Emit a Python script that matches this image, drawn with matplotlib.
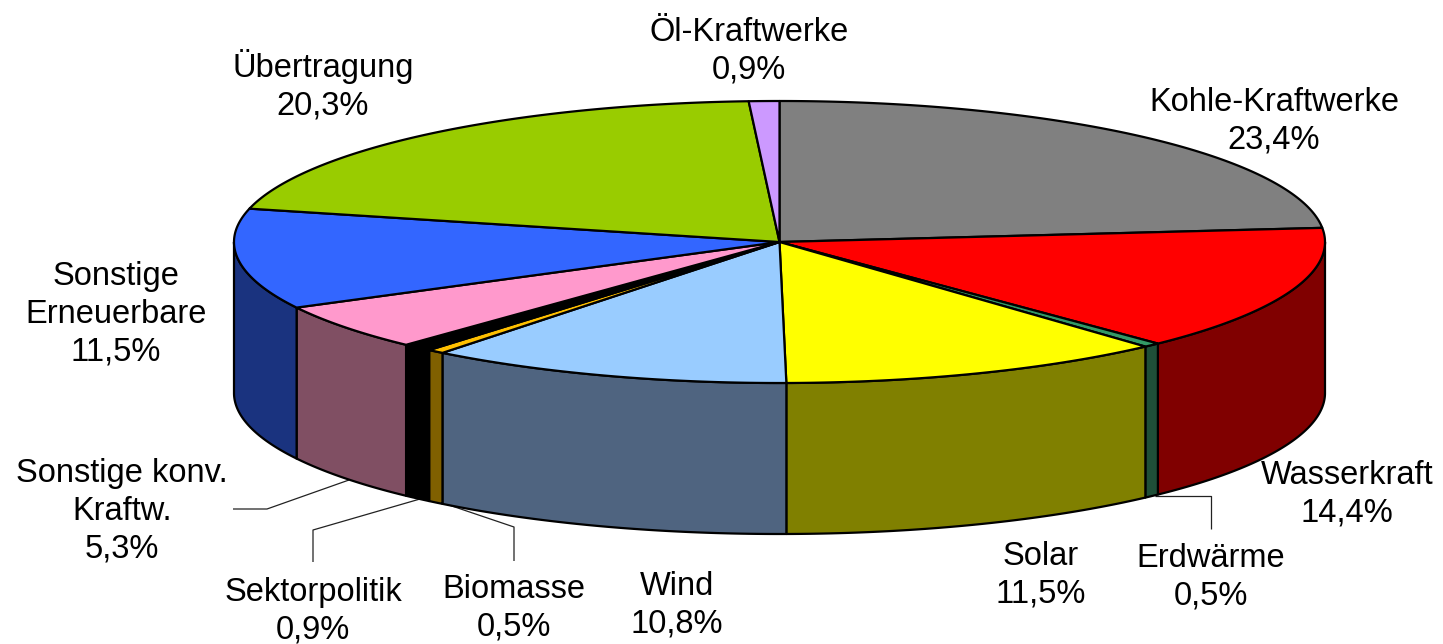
import numpy as np
import matplotlib
matplotlib.use("Agg")
import matplotlib.pyplot as plt
from matplotlib.patches import Polygon

categories = ["Kohle-Kraftwerke", "Wasserkraft", "Erdwärme", "Solar", "Wind", "Biomasse",
              "Sektorpolitik", "Sonstige konv.\nKraftw.", "Sonstige\nErneuerbare", "Übertragung", "Öl-Kraftwerke"]
values = [23.4, 14.4, 0.5, 11.5, 10.8, 0.5, 0.9, 5.3, 11.5, 20.3, 0.9]
top_colors = ["#808080", "#FF0000", "#339966", "#FFFF00", "#99CCFF", "#FFC000",
              "#000000", "#FF99CC", "#3366FF", "#99CC00", "#CC99FF"]
side_colors = ["#404040", "#800000", "#1F4F38", "#808000", "#4F6480", "#806000",
               "#000000", "#804F63", "#1A337F", "#4D6600", "#664D80"]
label_pos = [(1274, 121), (1347, 494), (1211, 577), (1041, 575), (677, 605), (514, 608),
             (313, 611), (122, 511), (116, 314), (323, 85), (749, 51)]
leaders = [[(233, 509), (267, 509), (349, 480)],
           [(313, 562), (313, 530), (420, 499)],
           [(514, 561), (514, 527), (443, 503)],
           [(1155, 496), (1211, 496), (1211, 529)]]

W, H = 1443, 644
CX, CY, RX, RY, DEPTH = 779.5, 242, 545.5, 141, 151

plt.rcParams["font.family"] = ["Liberation Sans", "DejaVu Sans"]
fig = plt.figure(figsize=(W / 100, H / 100), dpi=100)
ax = fig.add_axes([0, 0, 1, 1])
ax.set_xlim(0, W)
ax.set_ylim(H, 0)
ax.axis("off")


def arc(a, b, dy=0.0):
    t = np.radians(np.linspace(a, b, max(2, int(abs(b - a) * 4) + 2)))
    return np.column_stack([CX + RX * np.sin(t), CY + dy - RY * np.cos(t)])


edges = np.concatenate([[0], np.cumsum(values)]) * 360 / sum(values)
LW = 1.6

# walls of the front half
for a, b, c in zip(edges[:-1], edges[1:], side_colors):
    lo, hi = max(a, 90), min(b, 270)
    if hi > lo:
        pts = np.vstack([arc(lo, hi), arc(lo, hi, DEPTH)[::-1]])
        ax.add_patch(Polygon(pts, closed=True, facecolor=c, edgecolor="black",
                             linewidth=LW, joinstyle="round", zorder=2))

# top surface
for a, b, c in zip(edges[:-1], edges[1:], top_colors):
    pts = np.vstack([[(CX, CY)], arc(a, b)])
    ax.add_patch(Polygon(pts, closed=True, facecolor=c, edgecolor="black",
                         linewidth=LW, joinstyle="round", zorder=3))

for line in leaders:
    xs, ys = zip(*line)
    ax.plot(xs, ys, color="#222222", linewidth=0.9, zorder=1, solid_capstyle="butt")

for name, v, (x, y) in zip(categories, values, label_pos):
    pct = f"{v:.1f}%".replace(".", ",")
    ax.text(x, y, f"{name}\n{pct}", ha="center", va="center", fontsize=23.5, color="black",
            linespacing=1.29, zorder=5)

fig.savefig("out.png", dpi=100)
